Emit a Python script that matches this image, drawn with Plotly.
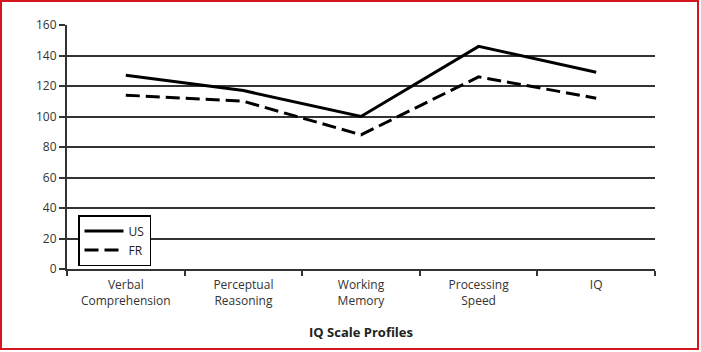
import plotly.graph_objects as go

categories = ["Verbal<br>Comprehension", "Perceptual<br>Reasoning", "Working<br>Memory",
              "Processing<br>Speed", "IQ"]
us_values = [127, 117, 100, 146, 129]
fr_values = [114, 110, 88, 126, 112]
y_ticks = [0, 20, 40, 60, 80, 100, 120, 140, 160]

W, H = 701, 352
L, R, T, B = 67, 46, 25, 83
pw, ph = W - L - R, H - T - B

fig = go.Figure()
fig.add_trace(go.Scatter(x=categories, y=us_values, mode="lines", name="US",
                         line=dict(color="black", width=3)))
fig.add_trace(go.Scatter(x=categories, y=fr_values, mode="lines", name="FR",
                         line=dict(color="black", width=3, dash="14px,6px")))

font = "Open Sans, Noto Sans, sans-serif"
fig.update_layout(
    width=W, height=H,
    margin=dict(l=L, r=R, t=T, b=B, pad=0),
    paper_bgcolor="white", plot_bgcolor="white",
    font=dict(family=font, size=12, color="#222"),
    showlegend=True,
    legend=dict(x=(78 - L) / pw, y=(H - B - 215) / ph, xanchor="left", yanchor="top",
                bgcolor="white", bordercolor="black", borderwidth=1.5,
                font=dict(size=12, color="#222"), tracegroupgap=0,
                itemwidth=39),
    xaxis=dict(type="category", tickson="boundaries", ticks="outside", ticklen=5,
               tickwidth=2, tickcolor="#333", showline=True, linecolor="#333", linewidth=2,
               showgrid=False, range=[-0.5, 4.5], ticklabelstandoff=4,
               title=dict(text="<b>IQ Scale Profiles</b>", font=dict(size=13, color="#222"),
                          standoff=20),
               tickfont=dict(size=12, color="#333")),
    yaxis=dict(range=[0, 160], tickvals=y_ticks, ticks="outside", ticklen=6, tickwidth=1.5,
               tickcolor="#333", showline=True, linecolor="#333", linewidth=2,
               showgrid=True, gridcolor="#333", gridwidth=1.5, zeroline=False,
               tickfont=dict(size=12, color="#333")),
    shapes=[dict(type="rect", xref="paper", yref="paper",
                 x0=(1 - L) / pw, x1=(698 - L) / pw,
                 y0=(H - B - 349) / ph, y1=(H - B - 1) / ph,
                 line=dict(color="#d4161e", width=2), fillcolor="rgba(0,0,0,0)",
                 layer="above")],
)

fig.write_html("out.html")
